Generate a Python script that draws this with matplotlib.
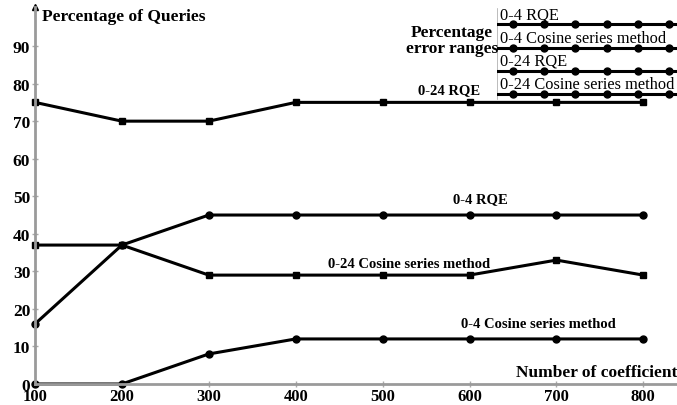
# Percentage of queries vs number of coefficients, four error-range series

import matplotlib.pyplot as plt

# -- data --
coefficients = [100, 200, 300, 400, 500, 600, 700, 800]
rqe_0_24 = [75, 70, 70, 75, 75, 75, 75, 75]
rqe_0_4 = [16, 37, 45, 45, 45, 45, 45, 45]
cosine_0_24 = [37, 37, 29, 29, 29, 29, 33, 29]
cosine_0_4 = [0, 0, 8, 12, 12, 12, 12, 12]

legend_labels = ['0-4 RQE', '0-4 Cosine series method',
                 '0-24 RQE', '0-24 Cosine series method']

plt.rcParams['font.family'] = ['Liberation Serif', 'DejaVu Serif']

W, H = 677, 406
fig = plt.figure(figsize=(W / 100, H / 100), dpi=100)

# axes box in pixel terms: x axis at y=385, y axis at x=35
ax = fig.add_axes([35 / W, 21 / H, (W - 35) / W, (385 - 8) / H])
ax.set_xlim(100, 100 + (W - 35) / 0.869)
ax.set_ylim(0, 100.4)

lw, ms = 2.2, 5
ax.plot(coefficients, rqe_0_24, color='black', lw=lw, marker='s', ms=ms - 0.5, clip_on=False)
ax.plot(coefficients, rqe_0_4, color='black', lw=lw, marker='o', ms=ms, clip_on=False)
ax.plot(coefficients, cosine_0_24, color='black', lw=lw, marker='s', ms=ms, clip_on=False)
ax.plot(coefficients, cosine_0_4, color='black', lw=lw, marker='o', ms=ms, clip_on=False)

# spines / ticks
for side in ['top', 'right']:
    ax.spines[side].set_visible(False)
for side in ['left', 'bottom']:
    ax.spines[side].set_color('#9a9a9a')
    ax.spines[side].set_linewidth(2)
ax.set_xticks(coefficients)
ax.set_yticks(range(0, 100, 10))
ax.tick_params(axis='both', direction='inout', length=5, width=1, color='#aaaaaa',
               labelsize=12.5, pad=1)
ax.tick_params(axis='x', labelsize=12, pad=0.5)
for lab in ax.get_xticklabels() + ax.get_yticklabels():
    lab.set_fontweight('bold')

# arrow on top of y axis
ax.plot([100], [100.4], marker='^', color='black', ms=4, clip_on=False)

# axis titles
fig.text(42 / W, 1 - 17 / H, 'Percentage of Queries', fontsize=12.5, fontweight='bold',
         va='center', ha='left')
fig.text(1.0, 1 - 373 / H, 'Number of coefficient', fontsize=12.5, fontweight='bold',
         va='center', ha='right')

# inline series labels
lab_fs = 10.5
ax.text(577, 78.3, '0-24 RQE', fontsize=lab_fs, fontweight='bold', ha='center', va='center')
ax.text(612, 49.3, '0-4 RQE', fontsize=lab_fs, fontweight='bold', ha='center', va='center')
ax.text(531, 32.0, '0-24 Cosine series method', fontsize=lab_fs, fontweight='bold',
        ha='center', va='center')
ax.text(679, 16.0, '0-4 Cosine series method', fontsize=lab_fs, fontweight='bold',
        ha='center', va='center')

# -- custom legend in the top-right corner --
fig.text(452 / W, 1 - 41 / H, 'Percentage\nerror ranges', fontsize=12.5, fontweight='bold',
         ha='center', va='center', linespacing=1.0)
leg = fig.add_axes([497 / W, 1 - 102 / H, (W - 497) / W, 94 / H])
leg.set_xlim(497, W)
leg.set_ylim(102, 8)
leg.axis('off')
leg.plot([497, 497], [10, 100], color='#b0b0b0', lw=1.2)
line_y = [25, 49, 72, 95]
marker_x = [513, 544, 575, 607, 638, 669]
for label, y in zip(legend_labels, line_y):
    leg.plot([497, W], [y, y], color='black', lw=2.2)
    leg.plot(marker_x, [y] * len(marker_x), 'o', color='black', ms=5, clip_on=False)
    leg.text(500, y - 2, label, fontsize=11.8, ha='left', va='bottom')

fig.savefig('out.png', dpi=100)
